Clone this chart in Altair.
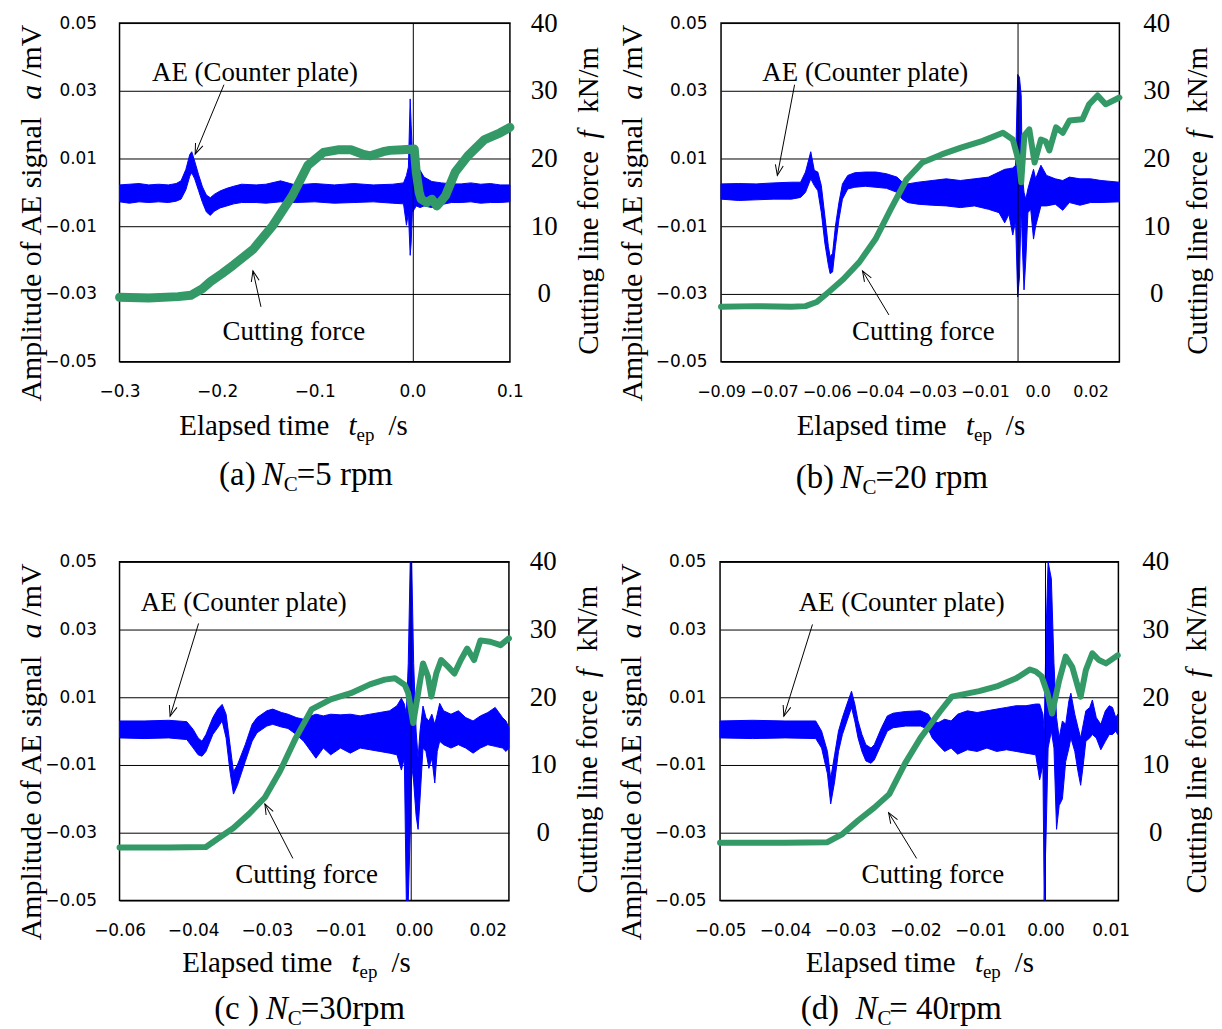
import json
import math
import altair as alt
import pandas as pd

BLUE = "#0000FF"
GREEN = "#339966"
SERIF = "Liberation Serif"
SANS = "DejaVu Sans"

AE_TICKS = [-0.05, -0.03, -0.01, 0.01, 0.03, 0.05]
F_TICKS = [0, 10, 20, 30, 40]

# ---------------- (a) Nc = 5 rpm ----------------
a_xticks = [-0.3, -0.2, -0.1, 0.0, 0.1]
a_xlabels = ["\u22120.3", "\u22120.2", "\u22120.1", "0.0", "0.1"]
# (time, AE low, AE high)
a_ae = [
    (-0.300, -0.0028, 0.0022), (-0.290, -0.0032, 0.0024), (-0.280, -0.0028, 0.0026),
    (-0.270, -0.0030, 0.0022), (-0.260, -0.0028, 0.0024), (-0.250, -0.0030, 0.0022),
    (-0.242, -0.0026, 0.0026), (-0.237, -0.0020, 0.0034), (-0.232, 0.0008, 0.0068),
    (-0.228, 0.0048, 0.0112), (-0.226, 0.0058, 0.0120), (-0.223, 0.0040, 0.0092),
    (-0.219, 0.0005, 0.0052), (-0.215, -0.0030, 0.0016), (-0.211, -0.0058, -0.0008),
    (-0.207, -0.0068, -0.0016), (-0.203, -0.0056, -0.0006), (-0.197, -0.0046, 0.0004),
    (-0.190, -0.0040, 0.0012), (-0.183, -0.0034, 0.0018), (-0.175, -0.0030, 0.0024),
    (-0.160, -0.0030, 0.0022), (-0.150, -0.0032, 0.0024), (-0.135, -0.0028, 0.0034),
    (-0.120, -0.0030, 0.0022), (-0.100, -0.0028, 0.0026), (-0.080, -0.0032, 0.0022),
    (-0.060, -0.0030, 0.0026), (-0.040, -0.0028, 0.0022), (-0.020, -0.0032, 0.0024),
    (-0.009, -0.0034, 0.0028), (-0.006, -0.0097, 0.0050), (-0.004, -0.0060, 0.0075),
    (-0.0022, -0.0186, 0.0276), (-0.0012, -0.0150, 0.0200), (0.000, -0.0060, 0.0120),
    (0.002, -0.0050, 0.0080), (0.004, -0.0040, 0.0050), (0.008, -0.0045, 0.0065),
    (0.012, -0.0040, 0.0045), (0.020, -0.0045, 0.0032), (0.030, -0.0036, 0.0028),
    (0.040, -0.0030, 0.0025), (0.050, -0.0030, 0.0025), (0.060, -0.0028, 0.0028),
    (0.070, -0.0032, 0.0024), (0.080, -0.0030, 0.0026), (0.090, -0.0030, 0.0022),
    (0.100, -0.0028, 0.0022),
]
# (time, cutting line force)
a_force = [
    (-0.300, -0.5), (-0.270, -0.6), (-0.240, -0.4), (-0.227, -0.2), (-0.215, 0.8),
    (-0.207, 1.8), (-0.195, 3.0), (-0.183, 4.3), (-0.163, 6.6), (-0.143, 10.1),
    (-0.123, 14.5), (-0.107, 19.0), (-0.091, 20.9), (-0.075, 21.3), (-0.063, 21.3),
    (-0.050, 20.6), (-0.043, 20.4), (-0.030, 21.0), (-0.023, 21.2), (-0.010, 21.3),
    (0.002, 21.4), (0.004, 18.0), (0.007, 15.0), (0.009, 14.0), (0.015, 13.5),
    (0.020, 14.0), (0.025, 13.0), (0.030, 13.8), (0.034, 14.5), (0.044, 18.0),
    (0.057, 20.4), (0.074, 22.8), (0.090, 23.8), (0.100, 24.6),
]

# ---------------- (b) Nc = 20 rpm ----------------
b_xticks = [-0.09, -0.075, -0.06, -0.045, -0.03, -0.015, 0.0, 0.015]
b_xlabels = ["\u22120.09", "\u22120.07", "\u22120.06", "\u22120.04", "\u22120.03", "\u22120.01", "0.0", "0.02"]
b_ae = [
    (-0.0900, -0.0020, 0.0025), (-0.0850, -0.0024, 0.0026), (-0.0800, -0.0022, 0.0025),
    (-0.0750, -0.0020, 0.0028), (-0.0700, -0.0020, 0.0030), (-0.0674, -0.0015, 0.0030),
    (-0.0660, 0.0000, 0.0060), (-0.0645, 0.0040, 0.0120), (-0.0635, 0.0020, 0.0065),
    (-0.0625, 0.0005, 0.0060), (-0.0615, -0.0060, 0.0020), (-0.0605, -0.0150, -0.0070),
    (-0.0595, -0.0215, -0.0160), (-0.0590, -0.0240, -0.0190), (-0.0583, -0.0235, -0.0180),
    (-0.0575, -0.0160, -0.0100), (-0.0565, -0.0080, -0.0030), (-0.0555, -0.0020, 0.0025),
    (-0.0540, 0.0010, 0.0050), (-0.0520, 0.0015, 0.0058), (-0.0490, 0.0018, 0.0060),
    (-0.0460, 0.0015, 0.0060), (-0.0430, 0.0012, 0.0055), (-0.0400, 0.0000, 0.0045),
    (-0.0385, -0.0020, 0.0030), (-0.0370, -0.0030, 0.0025), (-0.0340, -0.0035, 0.0030),
    (-0.0300, -0.0038, 0.0035), (-0.0260, -0.0040, 0.0040), (-0.0220, -0.0045, 0.0035),
    (-0.0180, -0.0040, 0.0040), (-0.0140, -0.0050, 0.0045), (-0.0110, -0.0060, 0.0060),
    (-0.0094, -0.0090, 0.0068), (-0.0082, -0.0065, 0.0070), (-0.0071, -0.0126, 0.0072),
    (-0.0063, -0.0085, 0.0080), (-0.0057, -0.0309, 0.0348), (-0.0052, -0.0250, 0.0340),
    (-0.0047, -0.0040, 0.0285), (-0.0044, -0.0150, 0.0050), (-0.0039, -0.0288, 0.0000),
    (-0.0034, -0.0200, -0.0020), (-0.0028, -0.0060, 0.0010), (-0.0020, -0.0050, 0.0040),
    (-0.0012, -0.0138, 0.0068), (-0.0006, -0.0100, 0.0040), (0.0009, -0.0040, 0.0080),
    (0.0025, -0.0040, 0.0050), (0.0050, -0.0035, 0.0040), (0.0071, -0.0053, 0.0035),
    (0.0090, -0.0030, 0.0045), (0.0120, -0.0038, 0.0040), (0.0150, -0.0030, 0.0040),
    (0.0180, -0.0030, 0.0035), (0.0232, -0.0028, 0.0030),
]
b_force = [
    (-0.0900, -1.9), (-0.0800, -1.8), (-0.0700, -1.9), (-0.0660, -1.8), (-0.0628, -1.2),
    (-0.0594, 0.3), (-0.0552, 2.2), (-0.0507, 4.7), (-0.0461, 8.1), (-0.0418, 12.5),
    (-0.0373, 16.9), (-0.0328, 19.4), (-0.0273, 20.6), (-0.0218, 21.6), (-0.0156, 22.6),
    (-0.0099, 23.8), (-0.0071, 22.8), (-0.0061, 20.9), (-0.0052, 19.0), (-0.0047, 16.5),
    (-0.0038, 23.4), (-0.0024, 24.3), (-0.0009, 19.4), (0.0009, 22.8), (0.0023, 22.5),
    (0.0033, 21.2), (0.0052, 24.6), (0.0071, 23.8), (0.0090, 25.6), (0.0127, 25.8),
    (0.0146, 28.0), (0.0170, 29.3), (0.0193, 28.0), (0.0232, 29.0),
]

# ---------------- (c) Nc = 30 rpm ----------------
c_xticks = [-0.06, -0.045, -0.03, -0.015, 0.0, 0.015]
c_xlabels = ["\u22120.06", "\u22120.04", "\u22120.03", "\u22120.01", "0.00", "0.02"]
c_ae = [
    (-0.0600, -0.0020, 0.0030), (-0.0550, -0.0022, 0.0030), (-0.0500, -0.0020, 0.0032),
    (-0.0463, -0.0025, 0.0028), (-0.0450, -0.0050, 0.0005), (-0.0440, -0.0070, -0.0020),
    (-0.0432, -0.0074, -0.0030), (-0.0424, -0.0060, -0.0010), (-0.0410, -0.0010, 0.0040),
    (-0.0400, 0.0010, 0.0065), (-0.0391, 0.0030, 0.0079), (-0.0383, -0.0020, 0.0050),
    (-0.0375, -0.0120, -0.0040), (-0.0368, -0.0186, -0.0120), (-0.0360, -0.0160, -0.0100),
    (-0.0344, -0.0090, -0.0040), (-0.0330, -0.0030, 0.0020), (-0.0320, -0.0005, 0.0040),
    (-0.0300, 0.0015, 0.0060), (-0.0288, 0.0020, 0.0065), (-0.0270, 0.0012, 0.0055),
    (-0.0257, 0.0008, 0.0050), (-0.0240, -0.0010, 0.0040), (-0.0225, -0.0030, 0.0035),
    (-0.0210, -0.0060, 0.0045), (-0.0200, -0.0080, 0.0050), (-0.0185, -0.0050, 0.0045),
    (-0.0170, -0.0070, 0.0050), (-0.0150, -0.0050, 0.0048), (-0.0130, -0.0065, 0.0050),
    (-0.0110, -0.0050, 0.0045), (-0.0090, -0.0055, 0.0050), (-0.0070, -0.0060, 0.0055),
    (-0.0050, -0.0065, 0.0060), (-0.0035, -0.0070, 0.0075), (-0.0026, -0.0115, 0.0097),
    (-0.0020, -0.0080, 0.0080), (-0.0016, -0.0500, 0.0050), (-0.0012, -0.0500, 0.0200),
    (-0.0008, -0.0300, 0.0500), (-0.0005, -0.0100, 0.0500), (-0.0001, -0.0150, 0.0200),
    (0.0004, -0.0250, 0.0000), (0.0008, -0.0290, -0.0080), (0.0012, -0.0200, 0.0000),
    (0.0018, -0.0050, 0.0074), (0.0024, -0.0060, 0.0040), (0.0030, -0.0110, 0.0030),
    (0.0036, -0.0080, 0.0050), (0.0042, -0.0153, 0.0020), (0.0047, -0.0060, 0.0050),
    (0.0052, -0.0030, 0.0082), (0.0060, -0.0040, 0.0060), (0.0075, -0.0050, 0.0050),
    (0.0090, -0.0040, 0.0060), (0.0105, -0.0050, 0.0040), (0.0120, -0.0065, 0.0030),
    (0.0135, -0.0050, 0.0045), (0.0150, -0.0040, 0.0055), (0.0165, -0.0045, 0.0070),
    (0.0180, -0.0050, 0.0040), (0.0187, -0.0060, 0.0030), (0.0193, -0.0050, 0.0010),
]
c_force = [
    (-0.0600, -2.2), (-0.0500, -2.2), (-0.0424, -2.1), (-0.0400, -0.9), (-0.0368, 0.7),
    (-0.0336, 2.8), (-0.0304, 5.2), (-0.0273, 9.1), (-0.0241, 14.0), (-0.0209, 18.2),
    (-0.0170, 19.7), (-0.0129, 20.6), (-0.0090, 21.9), (-0.0060, 22.6), (-0.0039, 22.8),
    (-0.0019, 21.8), (-0.0012, 20.6), (-0.0002, 16.2), (0.0008, 20.6), (0.0018, 25.0),
    (0.0028, 23.1), (0.0035, 20.1), (0.0045, 23.5), (0.0055, 25.5), (0.0068, 24.6),
    (0.0082, 23.5), (0.0095, 25.5), (0.0108, 27.2), (0.0122, 25.5), (0.0135, 28.4),
    (0.0155, 28.2), (0.0176, 27.7), (0.0193, 28.7),
]

# ---------------- (d) Nc = 40 rpm ----------------
d_xticks = [-0.05, -0.04, -0.03, -0.02, -0.01, 0.0, 0.01]
d_xlabels = ["\u22120.05", "\u22120.04", "\u22120.03", "\u22120.02", "\u22120.01", "0.00", "0.01"]
d_ae = [
    (-0.0500, -0.0020, 0.0030), (-0.0450, -0.0022, 0.0032), (-0.0400, -0.0020, 0.0030),
    (-0.0353, -0.0022, 0.0030), (-0.0344, -0.0050, 0.0000), (-0.0335, -0.0126, -0.0060),
    (-0.0330, -0.0215, -0.0140), (-0.0324, -0.0150, -0.0070), (-0.0318, -0.0060, 0.0000),
    (-0.0312, -0.0010, 0.0040), (-0.0305, 0.0030, 0.0080), (-0.0298, 0.0070, 0.0118),
    (-0.0293, 0.0030, 0.0080), (-0.0288, -0.0020, 0.0030), (-0.0282, -0.0060, -0.0010),
    (-0.0276, -0.0088, -0.0040), (-0.0268, -0.0095, -0.0050), (-0.0263, -0.0085, -0.0040),
    (-0.0252, -0.0038, 0.0010), (-0.0243, 0.0000, 0.0045), (-0.0234, 0.0010, 0.0053),
    (-0.0215, 0.0015, 0.0058), (-0.0192, 0.0015, 0.0060), (-0.0180, 0.0005, 0.0050),
    (-0.0174, -0.0020, 0.0030), (-0.0165, -0.0040, 0.0025), (-0.0155, -0.0060, 0.0035),
    (-0.0145, -0.0050, 0.0030), (-0.0135, -0.0068, 0.0050), (-0.0120, -0.0055, 0.0060),
    (-0.0105, -0.0060, 0.0055), (-0.0090, -0.0050, 0.0060), (-0.0075, -0.0060, 0.0065),
    (-0.0060, -0.0055, 0.0070), (-0.0045, -0.0060, 0.0075), (-0.0030, -0.0065, 0.0075),
    (-0.0015, -0.0070, 0.0080), (-0.0009, -0.0144, 0.0080), (-0.0004, -0.0100, 0.0050),
    (-0.0002, -0.0500, 0.0000), (0.0001, -0.0300, 0.0300), (0.0004, -0.0050, 0.0500),
    (0.0009, 0.0000, 0.0450), (0.0013, -0.0050, 0.0200), (0.0017, -0.0290, 0.0040),
    (0.0021, -0.0220, -0.0020), (0.0026, -0.0200, 0.0030), (0.0031, -0.0090, 0.0020),
    (0.0036, -0.0050, 0.0090), (0.0039, -0.0020, 0.0112), (0.0045, -0.0060, 0.0050),
    (0.0050, -0.0120, 0.0010), (0.0054, -0.0160, -0.0020), (0.0058, -0.0100, 0.0020),
    (0.0062, -0.0030, 0.0060), (0.0068, -0.0020, 0.0070), (0.0072, -0.0010, 0.0092),
    (0.0078, -0.0020, 0.0040), (0.0085, -0.0055, 0.0020), (0.0092, -0.0030, 0.0060),
    (0.0098, -0.0010, 0.0075), (0.0103, -0.0010, 0.0070), (0.0108, 0.0000, 0.0040),
    (0.0111, -0.0010, 0.0050),
]
d_force = [
    (-0.0500, -1.5), (-0.0400, -1.5), (-0.0335, -1.4), (-0.0312, -0.2), (-0.0288, 1.8),
    (-0.0263, 3.7), (-0.0240, 5.7), (-0.0216, 10.2), (-0.0192, 14.0), (-0.0162, 17.9),
    (-0.0144, 20.1), (-0.0102, 20.9), (-0.0075, 21.6), (-0.0045, 22.8), (-0.0024, 24.1),
    (-0.0015, 23.8), (-0.0006, 23.1), (0.0003, 20.6), (0.0010, 17.6), (0.0021, 22.5),
    (0.0031, 26.0), (0.0041, 24.5), (0.0054, 20.1), (0.0062, 24.0), (0.0072, 26.5),
    (0.0082, 25.5), (0.0093, 25.0), (0.0108, 26.0), (0.0111, 26.2),
]

ONE = pd.DataFrame({"k": [0]})
HEAD = "M -0.8 2.1 L 0 0 L 0.8 2.1"
H = 340


def txt(text, x, y, size=27, italic=False, angle=0):
    return alt.Chart(ONE).mark_text(
        text=text, font=SERIF, fontSize=size, fontStyle="italic" if italic else "normal",
        angle=angle, align="left", baseline="alphabetic", color="black",
    ).encode(x=alt.value(x), y=alt.value(y))


def panel(p):
    W = p["W"]
    xmin, xmax = p["xdom"]
    xs = alt.Scale(domain=p["xdom"], nice=False, zero=False)
    ys = alt.Scale(domain=[-0.05, 0.05], nice=False, zero=False)
    fs = alt.Scale(domain=[-10, 40], nice=False, zero=False)
    lab = json.dumps(p["xlabels"], ensure_ascii=False)
    tv = json.dumps(p["xticks"])
    xaxis = alt.Axis(values=p["xticks"], labelExpr=f"{lab}[indexof({tv}, datum.value)]",
                     title=None, grid=False, ticks=False, domain=False, labelFont=SANS,
                     labelFontSize=p["xfs"], labelColor="black", labelPadding=22,
                     labelFlush=False, labelOverlap=False)
    yaxis = alt.Axis(values=AE_TICKS, format=".2f", title=None, grid=True, gridColor="black",
                     gridWidth=1, gridOpacity=1, ticks=False, domain=False, labelFont=SANS,
                     labelFontSize=17, labelColor="black", labelPadding=p["lpad"])
    faxis = alt.Axis(orient="right", values=F_TICKS, title=None, grid=False, ticks=False,
                     domain=False, labelFont=SERIF, labelFontSize=27, labelColor="black",
                     labelAlign="center", labelPadding=p["rpad"])

    ae_df = pd.DataFrame(p["ae"], columns=["t", "lo", "hi"])
    f_df = pd.DataFrame(p["force"], columns=["t", "f"])

    ae = alt.Chart(ae_df).mark_area(color=BLUE, stroke=BLUE, strokeWidth=1, opacity=1).encode(
        x=alt.X("t:Q", scale=xs, axis=xaxis),
        y=alt.Y("lo:Q", scale=ys, axis=yaxis),
        y2="hi:Q",
    )
    vrule = alt.Chart(pd.DataFrame({"t": [p["vline"]]})).mark_rule(color="black", strokeWidth=1).encode(
        x=alt.X("t:Q", scale=xs, axis=xaxis))

    arr = p["arrows"]
    adf = pd.DataFrame(arr, columns=["x1", "y1", "x2", "y2"])
    sx = W / (xmax - xmin)
    sy = H / 0.1
    adf["ang"] = [
        (math.degrees(math.atan2((r[2] - r[0]) * sx, (r[3] - r[1]) * sy)) + 360) % 360
        for r in arr
    ]
    shafts = alt.Chart(adf).mark_rule(color="black", strokeWidth=1).encode(
        x=alt.X("x1:Q", scale=xs, axis=xaxis), y=alt.Y("y1:Q", scale=ys, axis=yaxis),
        x2="x2:Q", y2="y2:Q")
    heads = alt.Chart(adf).mark_point(shape=HEAD, filled=False, size=100, strokeWidth=1,
                                      color="black", opacity=1).encode(
        x=alt.X("x2:Q", scale=xs, axis=xaxis), y=alt.Y("y2:Q", scale=ys, axis=yaxis),
        angle=alt.Angle("ang:Q", scale=None))
    ndf = pd.DataFrame(p["notes"], columns=["t", "a", "label"])
    notes = alt.Chart(ndf).mark_text(font=SERIF, fontSize=27, align="center", baseline="middle",
                                     color="black").encode(
        x=alt.X("t:Q", scale=xs, axis=xaxis), y=alt.Y("a:Q", scale=ys, axis=yaxis),
        text="label:N")

    group_ae = alt.layer(ae, vrule, shafts, heads, notes)

    force = alt.Chart(f_df).mark_line(color=GREEN, strokeWidth=p["fw"], strokeJoin="round",
                                      strokeCap="round").encode(
        x=alt.X("t:Q", scale=xs, axis=xaxis),
        y=alt.Y("f:Q", scale=fs, axis=faxis),
    )

    # axis titles and caption
    texts = []
    lx = -79
    texts.append(txt("Amplitude of AE signal", lx, 380, 30, angle=270))
    texts.append(txt("a", lx, 77, 30, italic=True, angle=270))
    texts.append(txt("/mV", lx, 55, 30, angle=270))
    rx = W + 88
    texts.append(txt("Cutting line force", rx, 333, 29, angle=270))
    texts.append(txt("f", rx, 116, 29, italic=True, angle=270))
    texts.append(txt("kN/m", rx, 90, 29, angle=270))
    x0, yb = p["xt"]
    texts.append(txt("Elapsed time", x0, yb, 29))
    texts.append(txt("t", x0 + 170, yb, 29, italic=True))
    texts.append(txt("ep", x0 + 178, yb + 6, 19))
    texts.append(txt("/s", x0 + 210, yb, 29))
    cap, cy = p["cap"]
    texts.append(txt(cap[0][0], cap[0][1], cy, 33))
    texts.append(txt("N", cap[1], cy, 33, italic=True))
    texts.append(txt("C", cap[2], cy + 6, 21))
    texts.append(txt(cap[3][0], cap[3][1], cy, 33))

    return alt.layer(group_ae, force, *texts).resolve_scale(y="independent").properties(
        width=W, height=H)


PA = dict(W=392, xdom=[-0.3, 0.1], xticks=a_xticks, xlabels=a_xlabels, ae=a_ae, force=a_force,
          vline=0.001, lpad=23, rpad=34, fw=9, xfs=17,
          arrows=[(-0.193, 0.0318, -0.2225, 0.0113), (-0.1551, -0.0338, -0.1633, -0.0232)],
          notes=[(-0.1612, 0.0353, "AE (Counter plate)"), (-0.1214, -0.0412, "Cutting force")],
          xt=(60, 414), cap=((("(a)", 100), 143, 165, ("=5 rpm", 178)), 464))
PB = dict(W=400, xdom=[-0.09, 0.0232], xticks=b_xticks, xlabels=b_xlabels, ae=b_ae, force=b_force,
          vline=-0.0056, lpad=14, rpad=37, fw=6, xfs=16,
          arrows=[(-0.0691, 0.0318, -0.0740, 0.0050), (-0.0423, -0.0362, -0.0498, -0.0232)],
          notes=[(-0.049, 0.0353, "AE (Counter plate)"), (-0.0325, -0.0412, "Cutting force")],
          xt=(76, 414), cap=((("(b)", 75), 120, 142, ("=20 rpm", 155)), 467))
PC = dict(W=391, xdom=[-0.06, 0.0193], xticks=c_xticks, xlabels=c_xlabels, ae=c_ae, force=c_force,
          vline=-0.0006, lpad=23, rpad=34, fw=6, xfs=17,
          arrows=[(-0.0439, 0.0318, -0.0497, 0.0044), (-0.0247, -0.0376, -0.0304, -0.0215)],
          notes=[(-0.0347, 0.0379, "AE (Counter plate)"), (-0.0219, -0.0424, "Cutting force")],
          xt=(63, 412), cap=((("(c )", 95), 147, 169, ("=30rpm", 182)), 459))
PD = dict(W=400, xdom=[-0.05, 0.0112], xticks=d_xticks, xlabels=d_xlabels, ae=d_ae, force=d_force,
          vline=0.0, lpad=14, rpad=37, fw=6, xfs=17,
          arrows=[(-0.0358, 0.0315, -0.0402, 0.0044), (-0.0198, -0.0376, -0.0241, -0.0241)],
          notes=[(-0.0221, 0.0379, "AE (Counter plate)"), (-0.0173, -0.0424, "Cutting force")],
          xt=(86, 412), cap=((("(d)", 81), 136, 158, ("= 40rpm", 170)), 459))

row1 = alt.hconcat(panel(PA), panel(PB), spacing=13)
row2 = alt.hconcat(panel(PC), panel(PD), spacing=13)
chart = alt.vconcat(row1, row2, spacing=48).configure_view(
    stroke="black", strokeWidth=1.5).properties(
    padding={"left": 8, "top": -2, "right": 0, "bottom": 0})

chart.save("out.html", embed_options={"renderer": "svg", "actions": False})
